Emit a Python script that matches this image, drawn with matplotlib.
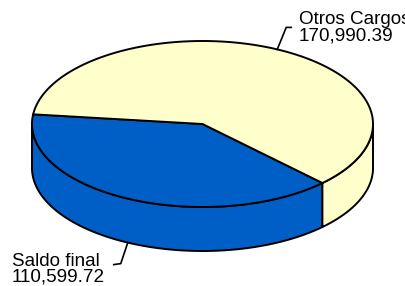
import numpy as np
import matplotlib.pyplot as plt
from matplotlib.patches import Polygon

# data
labels = ['Saldo final', 'Otros Cargos']
values = [110599.72, 170990.39]
colors = ['#005FC6', '#FFFFCC']

# pie geometry (pixels)
cx, cy = 202.5, 124.0
rx, ry = 170.5, 83.0
depth = 44.0
end_angle = -45.3  # where Saldo final ends / Otros Cargos starts

fig = plt.figure(figsize=(4.05, 2.86), dpi=100)
ax = fig.add_axes([0, 0, 1, 1])
ax.set_xlim(0, 405)
ax.set_ylim(286, 0)
ax.axis('off')


def pt(t, dz=0.0):
    r = np.radians(t)
    return cx + rx * np.cos(r), cy - ry * np.sin(r) + dz


# slice angle ranges (counterclockwise)
total = sum(values)
spans = [v / total * 360 for v in values]
a_otros0 = end_angle
a_otros1 = a_otros0 + spans[1]
a_saldo0 = a_otros1
a_saldo1 = a_saldo0 + spans[0]
ranges = {0: (a_saldo0, a_saldo1), 1: (a_otros0, a_otros1)}

# side walls (only the front half, 180..360, is visible)
for i in range(len(values)):
    a0, a1 = ranges[i]
    for shift in (-360, 0, 360):
        s0, s1 = max(a0 + shift, 180), min(a1 + shift, 360)
        if s1 <= s0:
            continue
        t = np.linspace(s0, s1, 100)
        top = [pt(a) for a in t]
        bot = [pt(a, depth) for a in t[::-1]]
        ax.add_patch(Polygon(top + bot, closed=True, facecolor=colors[i],
                             edgecolor='black', lw=1.4, joinstyle='round'))

# top faces
for i in range(len(values)):
    a0, a1 = ranges[i]
    t = np.linspace(a0, a1, 200)
    poly = [(cx, cy)] + [pt(a) for a in t]
    ax.add_patch(Polygon(poly, closed=True, facecolor=colors[i],
                         edgecolor='black', lw=1.4, joinstyle='round'))

# leader lines and labels
mid_otros = (a_otros0 + a_otros1) / 2
mx, my = pt(mid_otros)
ax.plot([mx, mx + 9, mx + 14], [my, my - 22, my - 22], color='black', lw=1.2)
ax.text(299, 11.5, labels[1] + '\n' + '{:,.2f}'.format(values[1]),
        fontsize=13.6, family='Liberation Sans', va='top', ha='left',
        linespacing=0.9, color='black')

mid_saldo = (a_saldo0 + a_saldo1) / 2
sx, sy = pt(mid_saldo, depth)
ax.plot([sx, sx - 7, sx - 14], [sy, sy + 21, sy + 22], color='black', lw=1.2)
ax.text(12, 252.5, labels[0] + '\n' + '{:,.2f}'.format(values[0]),
        fontsize=13.6, family='Liberation Sans', va='top', ha='left',
        linespacing=0.9, color='black')

fig.savefig('out.png', dpi=100)
